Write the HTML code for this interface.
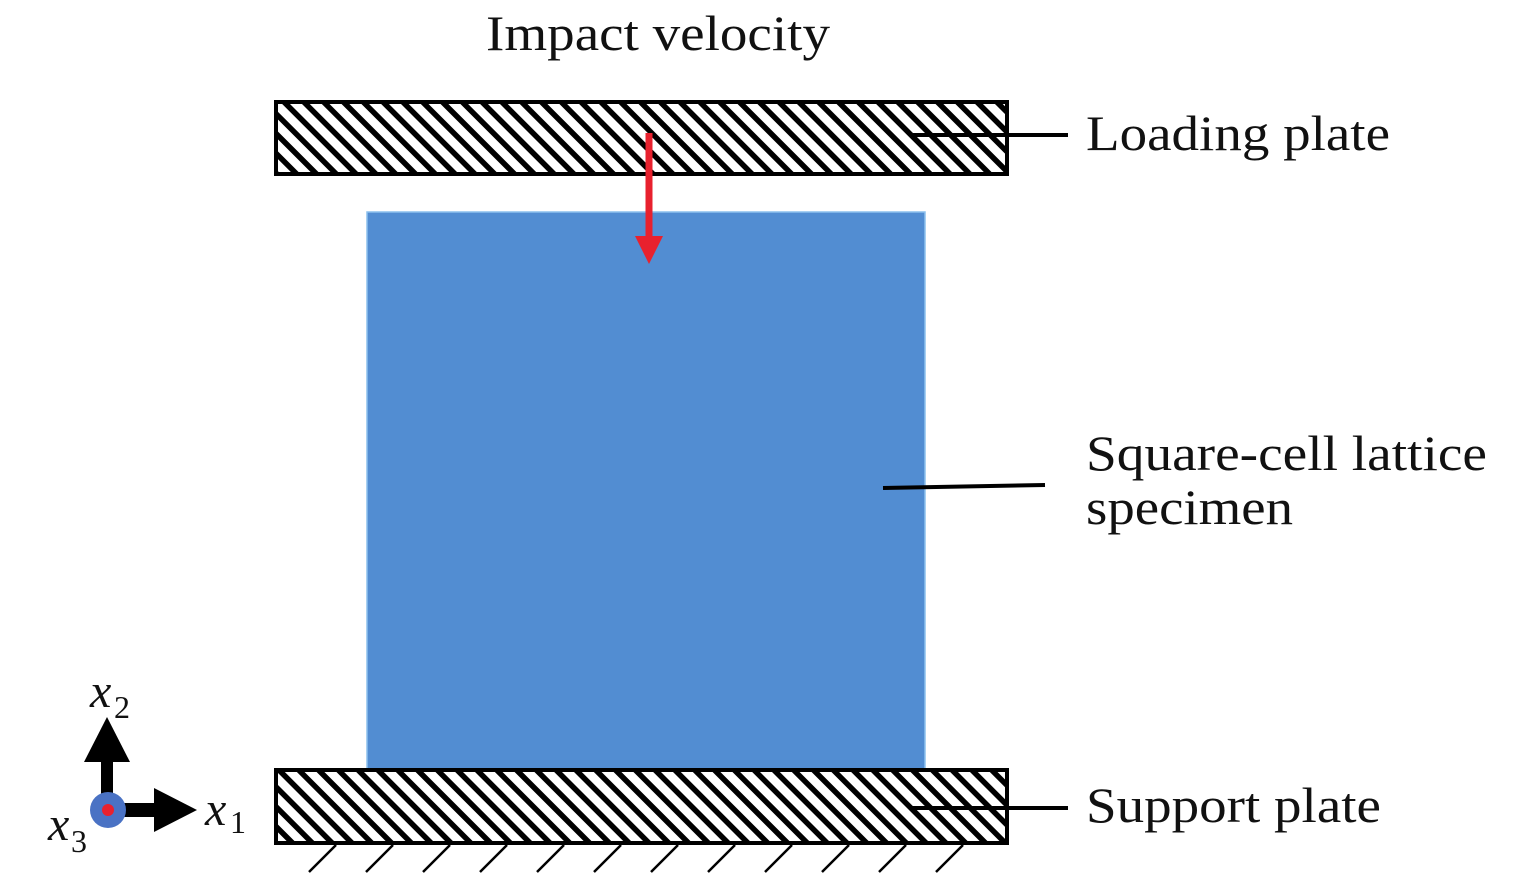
<!DOCTYPE html>
<html><head><meta charset="utf-8"><style>
body{margin:0;background:#fff}
svg{display:block}
text{font-family:"Liberation Serif",serif;fill:#111}
</style></head><body>
<svg width="1535" height="876" viewBox="0 0 1535 876" xmlns="http://www.w3.org/2000/svg">
<defs>
<pattern id="h" patternUnits="userSpaceOnUse" width="14" height="14" patternTransform="rotate(-45)">
<rect width="14" height="14" fill="#fff"/>
<rect x="0" y="0" width="5.5" height="14" fill="#000"/>
</pattern>
</defs>
<text x="486" y="50" font-size="50" textLength="344" lengthAdjust="spacingAndGlyphs">Impact velocity</text>
<rect x="276" y="102" width="731" height="72" fill="url(#h)" stroke="#000" stroke-width="4"/>
<rect x="367" y="212" width="558" height="557" fill="#528dd2" stroke="#8cc0ee" stroke-width="1.5"/>
<rect x="276" y="770" width="731" height="73" fill="url(#h)" stroke="#000" stroke-width="4"/>
<g stroke="#000" stroke-width="2.5">
<line x1="336" y1="845" x2="309" y2="872"/><line x1="393" y1="845" x2="366" y2="872"/>
<line x1="450" y1="845" x2="423" y2="872"/><line x1="507" y1="845" x2="480" y2="872"/>
<line x1="564" y1="845" x2="537" y2="872"/><line x1="621" y1="845" x2="594" y2="872"/>
<line x1="678" y1="845" x2="651" y2="872"/><line x1="735" y1="845" x2="708" y2="872"/>
<line x1="792" y1="845" x2="765" y2="872"/><line x1="849" y1="845" x2="822" y2="872"/>
<line x1="906" y1="845" x2="879" y2="872"/><line x1="963" y1="845" x2="936" y2="872"/>
</g>
<line x1="649" y1="133" x2="649" y2="240" stroke="#e8212e" stroke-width="7"/>
<polygon points="635,236 663,236 649,264" fill="#e8212e"/>
<g stroke="#000" stroke-width="4">
<line x1="910" y1="135" x2="1068" y2="135"/>
<line x1="883" y1="488" x2="1045" y2="485"/>
<line x1="910" y1="808" x2="1068" y2="808"/>
</g>
<text x="1086" y="150" font-size="50" textLength="304" lengthAdjust="spacingAndGlyphs">Loading plate</text>
<text x="1086" y="470" font-size="50" textLength="401" lengthAdjust="spacingAndGlyphs">Square-cell lattice</text>
<text x="1086" y="524" font-size="50" textLength="207" lengthAdjust="spacingAndGlyphs">specimen</text>
<text x="1086" y="822" font-size="50" textLength="295" lengthAdjust="spacingAndGlyphs">Support plate</text>
<rect x="101" y="760" width="12" height="50" fill="#000"/>
<polygon points="84,762 130,762 107,717" fill="#000"/>
<rect x="107" y="803" width="50" height="14" fill="#000"/>
<polygon points="154,788 154,832 197,810" fill="#000"/>
<circle cx="108" cy="810" r="18" fill="#4a72c4"/>
<circle cx="108" cy="810" r="6" fill="#e8212e"/>
<text x="90" y="707" font-size="48" font-style="italic">x</text>
<text x="114" y="718" font-size="32">2</text>
<text x="205" y="825" font-size="48" font-style="italic">x</text>
<text x="230" y="833" font-size="32">1</text>
<text x="48" y="840" font-size="48" font-style="italic">x</text>
<text x="71" y="852" font-size="32">3</text>
</svg>
</body></html>
